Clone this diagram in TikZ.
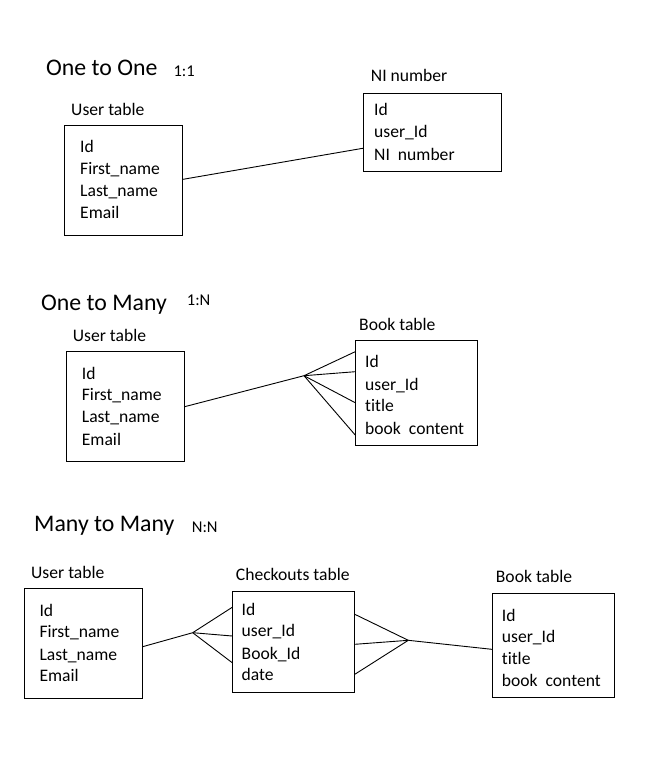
\documentclass[tikz,border=0pt]{standalone}
\usepackage{fontspec}
\setmainfont{Carlito}[Ligatures={NoCommon}]
\begin{document}
\begin{tikzpicture}[x=1pt,y=-1pt,
  tbl/.style={draw=black, line width=1pt, rectangle, inner sep=0pt, fill=none},
  fld/.style={anchor=base west, inner sep=0pt, font=\fontsize{17.6}{20}\selectfont},
  lbl/.style={anchor=base west, inner sep=0pt, font=\fontsize{17.6}{20}\selectfont},
  ttl/.style={anchor=base west, inner sep=0pt, font=\fontsize{23.8}{26}\selectfont},
  rat/.style={anchor=base west, inner sep=0pt, font=\fontsize{16.5}{19}\selectfont},
  conn/.style={draw=black, line width=0.9pt}]
\useasboundingbox[fill=white] (0,0) rectangle (666,773);

% ---------- One to One ----------
\node[ttl] (t1) at (46,76) {One to One};
\node[rat] (r1) at (173.3,76.7) {1:1};
\node[lbl] (l1u) at (71,115.7) {User table};
\node[lbl] (l1n) at (370.7,81.7) {NI number};
\node[tbl, minimum width=118, minimum height=109.3] (u1) at (123.3,180.35) {};
\node[fld] (u1a) at (80,152.7) {Id};
\node[fld] (u1b) at (80,174.3) {First\_name};
\node[fld] (u1c) at (80,196.7) {Last\_name};
\node[fld] (u1d) at (80,218.3) {Email};
\node[tbl, minimum width=138.4, minimum height=78.4] (ni) at (432.5,132.5) {};
\node[fld] (nia) at (374,116) {Id};
\node[fld] (nib) at (374,137.7) {user\_Id};
\node[fld] (nic) at (374,160) {NI\ \ number};
\draw[conn] ([yshift=1pt]u1.east) -- ([yshift=-15.8pt]ni.west);

% ---------- One to Many ----------
\node[ttl] (t2) at (41,310) {One to Many};
\node[rat] (r2) at (186.7,305) {1:N};
\node[lbl] (l2u) at (72.7,341.7) {User table};
\node[lbl] (l2b) at (359,330) {Book table};
\node[tbl, minimum width=117.6, minimum height=109.3] (u2) at (125.5,406.35) {};
\node[fld] (u2a) at (81.7,379) {Id};
\node[fld] (u2b) at (81.7,400.7) {First\_name};
\node[fld] (u2c) at (81.7,422.7) {Last\_name};
\node[fld] (u2d) at (81.7,445) {Email};
\node[tbl, minimum width=121.6, minimum height=105] (b2) at (416.5,393.2) {};
\node[fld] (b2a) at (365,367.7) {Id};
\node[fld] (b2b) at (365,390) {user\_Id};
\node[fld] (b2c) at (365,411.7) {title};
\node[fld] (b2d) at (365,434) {book\ \ content};
\coordinate (f2) at (304,375.7);
\draw[conn] ([yshift=-0.3pt]u2.east) -- (f2);
\draw[conn] (f2) -- ([yshift=41.5pt]b2.west);
\draw[conn] (f2) -- ([yshift=21.5pt]b2.west);
\draw[conn] (f2) -- ([yshift=-9.5pt]b2.west);
\draw[conn] (f2) -- ([yshift=-41.8pt]b2.west);

% ---------- Many to Many ----------
\node[ttl] (t3) at (34,531) {Many to Many};
\node[rat] (r3) at (191.7,532.7) {N:N};
\node[lbl] (l3u) at (31,578.3) {User table};
\node[lbl] (l3c) at (235.7,580) {Checkouts table};
\node[lbl] (l3b) at (495.7,582.7) {Book table};
\node[tbl, minimum width=118, minimum height=109.7] (u3) at (83.3,643.15) {};
\node[fld] (u3a) at (39.3,616) {Id};
\node[fld] (u3b) at (39.3,637.7) {First\_name};
\node[fld] (u3c) at (39.3,660) {Last\_name};
\node[fld] (u3d) at (39.3,681.7) {Email};
\node[tbl, minimum width=121.6, minimum height=100.6] (c3) at (293.5,642) {};
\node[fld] (c3a) at (241.5,615) {Id};
\node[fld] (c3b) at (241.5,636.7) {user\_Id};
\node[fld] (c3c) at (241.5,659) {Book\_Id};
\node[fld] (c3d) at (241.5,680.7) {date};
\node[tbl, minimum width=122, minimum height=104.4] (b3) at (553.3,645.5) {};
\node[fld] (b3a) at (501.7,621) {Id};
\node[fld] (b3b) at (501.7,642.7) {user\_Id};
\node[fld] (b3c) at (501.7,664.3) {title};
\node[fld] (b3d) at (501.7,686.7) {book\ \ content};
\coordinate (f3a) at (192.7,632.7);
\coordinate (f3b) at (408.3,640.3);
\draw[conn] ([yshift=-3.5pt]u3.east) -- (f3a);
\draw[conn] (f3a) -- ([yshift=34.7pt]c3.west);
\draw[conn] (f3a) -- ([yshift=6pt]c3.west);
\draw[conn] (f3a) -- ([yshift=-20.7pt]c3.west);
\draw[conn] ([yshift=27.7pt]c3.east) -- (f3b);
\draw[conn] ([yshift=-2.3pt]c3.east) -- (f3b);
\draw[conn] ([yshift=-32.3pt]c3.east) -- (f3b);
\draw[conn] (f3b) -- ([yshift=-3.8pt]b3.west);
\end{tikzpicture}
\end{document}
